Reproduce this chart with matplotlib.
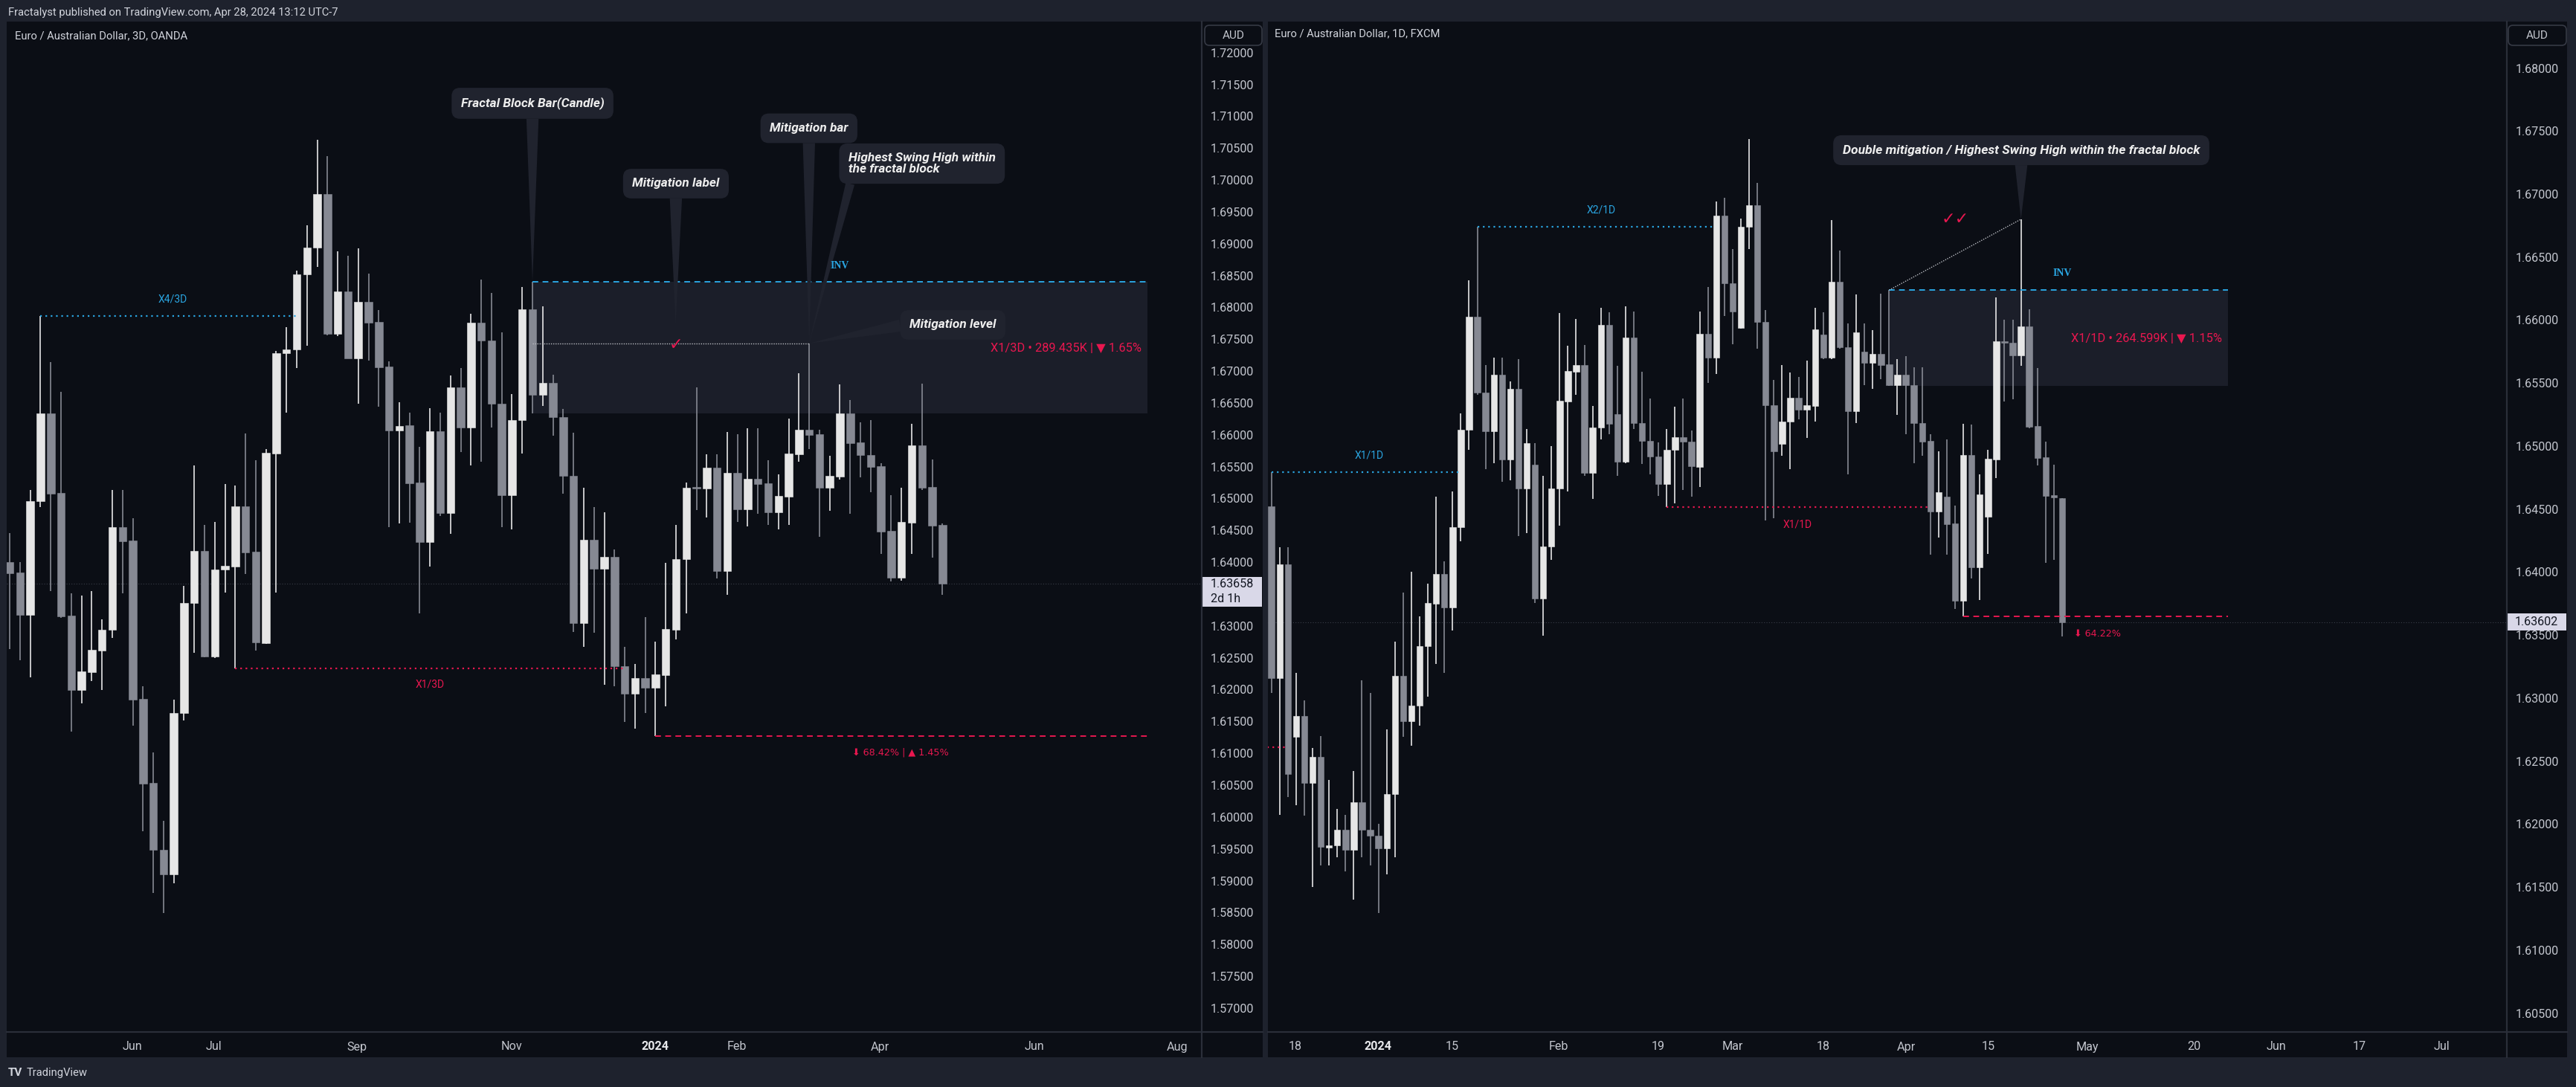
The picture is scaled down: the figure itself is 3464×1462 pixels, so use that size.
import numpy as np
import matplotlib
matplotlib.use('Agg')
import matplotlib.pyplot as plt
import matplotlib.transforms as mtransforms
from matplotlib.patches import Rectangle, FancyBboxPatch
from matplotlib.lines import Line2D
from matplotlib.ticker import FuncFormatter

plt.rcParams['font.family'] = ['Roboto', 'DejaVu Sans']

# ---------------- DATA: left chart (EURAUD, 3D bars) ----------------
left_open = [1.64007, 1.63836, 1.63178, 1.64959, 1.66336, 1.65090, 1.63163, 1.61995, 1.62273, 1.62614,
             1.62939, 1.64548, 1.64340, 1.61855, 1.60540, 1.59487, 1.59100, 1.61631, 1.63356, 1.64177,
             1.62521, 1.63883, 1.63937, 1.64881, 1.64169, 1.62730, 1.65709, 1.67280, 1.67334, 1.68518,
             1.68936, 1.69780, 1.67582, 1.68248, 1.67203, 1.68085, 1.67775, 1.67071, 1.66065, 1.66150,
             1.65253, 1.64316, 1.66057, 1.64773, 1.66746, 1.66112, 1.67760, 1.67481, 1.66491, 1.65052,
             1.66228, 1.67969, 1.66622, 1.66816, 1.66282, 1.65353, 1.63039, 1.64355, 1.63891, 1.64084,
             1.62366, 1.61940, 1.62180, 1.62033, 1.62227, 1.62939, 1.64045, 1.65175, 1.65152, 1.65485,
             1.63860, 1.65400, 1.64835, 1.65307, 1.65237, 1.64788, 1.65028, 1.65694, 1.66081, 1.66011,
             1.65168, 1.65346, 1.66336, 1.65879, 1.65686, 1.65508, 1.64486, 1.63759, 1.64618, 1.65833,
             1.65183, 1.64587]
left_high = [1.64455, 1.64007, 1.65137, 1.67861, 1.67141, 1.66676, 1.63511, 1.63472, 1.63550, 1.63101,
             1.65137, 1.65137, 1.64688, 1.62057, 1.61011, 1.59944, 1.61848, 1.63627, 1.65523, 1.64587,
             1.64633, 1.65230, 1.65199, 1.66019, 1.65601, 1.65771, 1.67319, 1.67690, 1.68573, 1.69292,
             1.70631, 1.70376, 1.68882, 1.68805, 1.68929, 1.68534, 1.67961, 1.67149, 1.66506, 1.66351,
             1.65810, 1.66421, 1.66351, 1.66932, 1.67048, 1.67899, 1.68433, 1.68224, 1.67605, 1.66638,
             1.68317, 1.68402, 1.68015, 1.66947, 1.66406, 1.66034, 1.65168, 1.64866, 1.64788, 1.64200,
             1.62676, 1.62405, 1.63140, 1.62753, 1.63991, 1.64587, 1.65253, 1.66746, 1.65694, 1.65694,
             1.66042, 1.66011, 1.66104, 1.66104, 1.65601, 1.65384, 1.66259, 1.66971, 1.67435, 1.66081,
             1.65671, 1.66793, 1.66545, 1.66197, 1.66235, 1.65554, 1.65052, 1.65168, 1.66174, 1.66800,
             1.65616, 1.64610]
left_low = [1.62637, 1.62459, 1.62196, 1.64866, 1.63550, 1.63124, 1.61344, 1.61786, 1.62134, 1.61995,
            1.62815, 1.63511, 1.61438, 1.59774, 1.58806, 1.58496, 1.58961, 1.61515, 1.62575, 1.62510,
            1.62498, 1.63527, 1.62327, 1.63813, 1.62614, 1.62714, 1.63527, 1.66351, 1.67048, 1.67396,
            1.68634, 1.67566, 1.67551, 1.67195, 1.66491, 1.67164, 1.66444, 1.64548, 1.64610, 1.64626,
            1.63202, 1.63937, 1.64726, 1.64440, 1.65732, 1.65523, 1.65578, 1.66119, 1.64548, 1.64517,
            1.65709, 1.66336, 1.66452, 1.65980, 1.65075, 1.62908, 1.62676, 1.62892, 1.62072, 1.62057,
            1.61492, 1.61383, 1.61631, 1.61267, 1.61732, 1.62792, 1.63194, 1.64819, 1.64703, 1.63743,
            1.63488, 1.64633, 1.64564, 1.64757, 1.64587, 1.64510, 1.64587, 1.65578, 1.65771, 1.64394,
            1.64804, 1.65292, 1.64765, 1.65338, 1.65098, 1.64131, 1.63697, 1.63712, 1.64131, 1.65129,
            1.64069, 1.63488]
left_close = [1.63821, 1.63178, 1.64959, 1.66336, 1.65075, 1.63155, 1.61995, 1.62289, 1.62629, 1.62939,
              1.64548, 1.64332, 1.61848, 1.60524, 1.59487, 1.59100, 1.61631, 1.63364, 1.64177, 1.62521,
              1.63883, 1.63945, 1.64881, 1.64154, 1.62737, 1.65717, 1.67280, 1.67342, 1.68518, 1.68936,
              1.69780, 1.67582, 1.68248, 1.67203, 1.68085, 1.67760, 1.67063, 1.66065, 1.66143, 1.65237,
              1.64316, 1.66057, 1.64773, 1.66746, 1.66112, 1.67760, 1.67474, 1.66483, 1.65052, 1.66235,
              1.67969, 1.66622, 1.66816, 1.66274, 1.65353, 1.63039, 1.64355, 1.63891, 1.64084, 1.62366,
              1.61940, 1.62180, 1.62033, 1.62242, 1.62954, 1.64053, 1.65168, 1.65152, 1.65485, 1.63860,
              1.65400, 1.64835, 1.65307, 1.65230, 1.64788, 1.65044, 1.65709, 1.66081, 1.66003, 1.65168,
              1.65353, 1.66336, 1.65872, 1.65678, 1.65500, 1.64479, 1.63759, 1.64633, 1.65833, 1.65168,
              1.64572, 1.63658]

left_tick_pos = [11.95, 19.87, 33.87, 48.96, 62.96, 70.91, 84.91, 99.95, 113.9]
left_tick_labels = ['Jun', 'Jul', 'Sep', 'Nov', '2024', 'Feb', 'Apr', 'Jun', 'Aug']

# left chart levels / zone
left_fb_bar = 51            # fractal block bar index
left_mit_bar = 78           # mitigation bar index
left_zone_end = 111.0
left_mit_level = 1.67435
left_x4_level, left_x4_span = 1.67861, (3, 28)
left_x1_level, left_x1_span = 1.62327, (22, 60)
left_low_level, left_low_span = 1.61267, (63, 111.0)
left_last = 1.63658
left_countdown = '2d 1h'

# ---------------- DATA: right chart (EURAUD, 1D bars) ----------------
right_open = [1.64522, 1.63158, 1.64064, 1.62695, 1.62859, 1.62325, 1.62532, 1.61814, 1.61830, 1.61954,
              1.61794, 1.62173, 1.61954, 1.61906, 1.61806, 1.62237, 1.63178, 1.62819, 1.62939, 1.63414,
              1.63749, 1.63984, 1.63717, 1.64355, 1.65129, 1.66026, 1.65424, 1.65117, 1.65568, 1.64894,
              1.65456, 1.64662, 1.64854, 1.63789, 1.64203, 1.64662, 1.65356, 1.65588, 1.65643, 1.64786,
              1.65145, 1.65963, 1.65253, 1.64874, 1.65863, 1.65185, 1.65041, 1.64917, 1.64698, 1.64969,
              1.65069, 1.65037, 1.64834, 1.65891, 1.65699, 1.66828, 1.66290, 1.65935, 1.66740, 1.66912,
              1.65983, 1.65324, 1.65017, 1.65193, 1.65384, 1.65288, 1.65320, 1.65887, 1.65699, 1.66306,
              1.65783, 1.65280, 1.65751, 1.65663, 1.65731, 1.65647, 1.65484, 1.65568, 1.65484, 1.65185,
              1.65041, 1.64479, 1.64598, 1.64387, 1.63773, 1.64929, 1.64036, 1.64439, 1.64894, 1.65831,
              1.65819, 1.65719, 1.65951, 1.65161, 1.64913, 1.64610, 1.64586]
right_high = [1.64794, 1.64199, 1.64199, 1.63198, 1.62979, 1.62604, 1.62699, 1.62353, 1.62121, 1.62073,
              1.62420, 1.63142, 1.63043, 1.62001, 1.62751, 1.63450, 1.63837, 1.64004, 1.63649, 1.63908,
              1.64598, 1.64088, 1.64638, 1.65260, 1.66314, 1.66740, 1.65643, 1.65703, 1.65699, 1.65516,
              1.65691, 1.65137, 1.65025, 1.64766, 1.64997, 1.66054, 1.65795, 1.66010, 1.65803, 1.65320,
              1.66098, 1.66062, 1.65635, 1.66110, 1.66066, 1.65592, 1.65376, 1.65029, 1.65133, 1.65312,
              1.65376, 1.65125, 1.66066, 1.66262, 1.66940, 1.66972, 1.66561, 1.66808, 1.67439, 1.67087,
              1.66082, 1.65524, 1.65643, 1.65584, 1.65548, 1.65679, 1.66098, 1.66062, 1.66792, 1.66553,
              1.65975, 1.66202, 1.65975, 1.65923, 1.66210, 1.66238, 1.65691, 1.65715, 1.65624, 1.65624,
              1.65093, 1.64957, 1.65053, 1.64526, 1.65177, 1.65173, 1.64778, 1.64969, 1.66182, 1.66002,
              1.66002, 1.66800, 1.66086, 1.65620, 1.65037, 1.64854, 1.64586]
right_low = [1.63043, 1.62073, 1.62213, 1.62149, 1.62065, 1.61503, 1.61674, 1.61670, 1.61734, 1.61622,
             1.61403, 1.61734, 1.61674, 1.61295, 1.61603, 1.61734, 1.62691, 1.62620, 1.62779, 1.63011,
             1.63270, 1.63198, 1.63537, 1.64247, 1.64973, 1.65404, 1.64814, 1.64866, 1.64718, 1.64726,
             1.64287, 1.64307, 1.63757, 1.63497, 1.64096, 1.64367, 1.64638, 1.65404, 1.64766, 1.64578,
             1.65053, 1.65093, 1.64766, 1.64866, 1.65133, 1.64858, 1.64778, 1.64606, 1.64514, 1.64546,
             1.64654, 1.64598, 1.64674, 1.65504, 1.65572, 1.66034, 1.65811, 1.65931, 1.66561, 1.65771,
             1.64407, 1.64427, 1.64925, 1.64814, 1.65213, 1.65065, 1.65193, 1.65691, 1.65691, 1.65771,
             1.64774, 1.65181, 1.65484, 1.65452, 1.65532, 1.65476, 1.65245, 1.65097, 1.64862, 1.64925,
             1.64136, 1.64275, 1.64136, 1.63705, 1.63649, 1.63948, 1.63777, 1.64144, 1.64746, 1.65356,
             1.65372, 1.65635, 1.65141, 1.64846, 1.64076, 1.64096, 1.63490]
right_close = [1.63158, 1.64064, 1.62400, 1.62859, 1.62325, 1.62532, 1.61822, 1.61834, 1.61954, 1.61794,
               1.62173, 1.61954, 1.61906, 1.61806, 1.62237, 1.63178, 1.62819, 1.62939, 1.63414, 1.63757,
               1.63984, 1.63717, 1.64355, 1.65129, 1.66026, 1.65424, 1.65117, 1.65568, 1.64894, 1.65456,
               1.64662, 1.65025, 1.63789, 1.64203, 1.64662, 1.65360, 1.65596, 1.65643, 1.64786, 1.65149,
               1.65963, 1.65177, 1.64874, 1.65863, 1.65181, 1.65041, 1.64917, 1.64698, 1.64969, 1.65069,
               1.65037, 1.64838, 1.65891, 1.65699, 1.66828, 1.66290, 1.66066, 1.66740, 1.66912, 1.65983,
               1.65324, 1.64957, 1.65197, 1.65384, 1.65288, 1.65324, 1.65927, 1.65699, 1.66306, 1.65783,
               1.65280, 1.65903, 1.65663, 1.65731, 1.65643, 1.65484, 1.65568, 1.65484, 1.65185, 1.65037,
               1.64479, 1.64634, 1.64383, 1.63773, 1.64929, 1.64036, 1.64618, 1.64901, 1.65831, 1.65819,
               1.65719, 1.65951, 1.65153, 1.64905, 1.64602, 1.64590, 1.63602]

right_tick_pos = [2.89, 12.95, 21.97, 34.88, 46.98, 56.01, 66.98, 77.04, 87.06, 99.07, 111.98, 122.0, 132.08, 142.04]
right_tick_labels = ['18', '2024', '15', 'Feb', '19', 'Mar', '18', 'Apr', '15', 'May', '20', 'Jun', '17', 'Jul']

right_fb_bar = 75
right_swing_bar = 91
right_zone_end = 116.1
right_x1b_level, right_x1b_span = 1.64794, (0, 23)
right_x2b_level, right_x2b_span = 1.66740, (25, 53.6)
right_x1r_level, right_x1r_span = 1.64514, (48, 79.9)
right_old_level, right_old_span = 1.62612, (-0.5, 2)
right_low_level, right_low_span = 1.63649, (84, 116.1)
right_last = 1.63602

# ---------------- STYLE ----------------
W, H, DPI = 3464, 1462, 200
OUTER = '#1e222d'
PANEL = '#0b0e15'
SEP = '#2a2e39'
UP = '#e6e6e6'
DOWN = '#868993'
TICK = '#c3c6ce'
ZONE = '#1b1e29'
CALLOUT = '#20232e'
BLUE = '#2aa5e1'
RED = '#e8174f'
DOTW = '#b8bac0'
LABELBOX = '#d9d8e8'

fig = plt.figure(figsize=(W / DPI, H / DPI), dpi=DPI, facecolor=OUTER)


def px_rect(x0, y0, x1, y1):
    return [x0 / W, 1 - y1 / H, (x1 - x0) / W, (y1 - y0) / H]


def fig_rect(x0, y0, x1, y1, color, z=-2):
    r = px_rect(x0, y0, x1, y1)
    fig.add_artist(Rectangle((r[0], r[1]), r[2], r[3], transform=fig.transFigure,
                             fc=color, ec='none', zorder=z))


def fig_line(xs, ys, color=SEP, lw=0.8, z=10):
    fig.add_artist(Line2D([x / W for x in xs], [1 - y / H for y in ys], transform=fig.transFigure,
                          color=color, lw=lw, zorder=z))


# panel backgrounds
fig_rect(9, 29, 1698, 1422, PANEL)
fig_rect(1705, 29, 3452, 1422, PANEL)
# separators
fig_line([1616, 1616], [29, 1422])
fig_line([9, 1698], [1388, 1388])
fig_line([3370.6, 3370.6], [29, 1422])
fig_line([1705, 3452], [1388, 1388])

axL = fig.add_axes(px_rect(9, 29, 1616, 1388))
axR = fig.add_axes(px_rect(1705, 29, 3370.6, 1388))


def draw_candles(ax, o, h, l, c, width=0.76):
    o, h, l, c = map(np.asarray, (o, h, l, c))
    x = np.arange(len(o))
    cols = np.where(c >= o, UP, DOWN)
    ax.vlines(x, l, h, colors=cols, linewidths=0.6, zorder=3)
    bottom = np.minimum(o, c)
    height = np.maximum(np.abs(c - o), 0.0001)
    ax.bar(x, height, width, bottom=bottom, color=cols, edgecolor=cols, linewidth=0.2, zorder=4)


def style_axes(ax, xlim, ylim, yticks, xpos, xlabels):
    ax.set_facecolor(PANEL)
    for s in ax.spines.values():
        s.set_visible(False)
    ax.set_xlim(*xlim)
    ax.set_ylim(*ylim)
    ax.yaxis.tick_right()
    ax.set_yticks(yticks)
    ax.yaxis.set_major_formatter(FuncFormatter(lambda v, _: f'{v:.5f}'))
    ax.tick_params(axis='y', length=0, pad=4.2, labelsize=5.8, labelcolor=TICK)
    ax.set_xticks(xpos)
    ax.set_xticklabels(xlabels)
    ax.tick_params(axis='x', length=0, pad=4.5, labelsize=5.8, labelcolor=TICK)
    for t in ax.get_xticklabels():
        if t.get_text() == '2024':
            t.set_fontweight('bold')
            t.set_color('#e8e9ec')


# left price scale: the tick hidden under the last-price label is not shown (as on the reference)
left_yticks = [v for v in np.arange(1.570, 1.72001, 0.005) if abs(v - left_last) > 0.002]
style_axes(axL, (-0.3, 116.3), (1.56625, 1.72487), left_yticks,
           left_tick_pos, left_tick_labels)
style_axes(axR, (-0.42, 149.95), (1.6035, 1.68369), np.arange(1.605, 1.68001, 0.005),
           right_tick_pos, right_tick_labels)

draw_candles(axL, left_open, left_high, left_low, left_close)
draw_candles(axR, right_open, right_high, right_low, right_close)


def callout(ax, text, xy, xytext, relpos=(0.5, 0.0), size=6.2, tw=0.95):
    ax.annotate(text, xy=xy, xycoords='data', xytext=xytext, textcoords='axes fraction',
                ha='center', va='center', multialignment='left', fontsize=size,
                color='#eeeeee', fontstyle='italic', fontweight='bold', linespacing=0.95,
                bbox=dict(boxstyle='round,pad=0.72,rounding_size=0.65', fc=CALLOUT, ec='none'),
                arrowprops=dict(arrowstyle=f'wedge,tail_width={tw}', fc=CALLOUT, ec='none',
                                relpos=relpos, shrinkA=0, shrinkB=0),
                zorder=8, annotation_clip=False)


def hline(ax, y, x0, x1, color, ls, lw=0.7, z=5):
    ax.plot([x0, x1], [y, y], color=color, ls=ls, lw=lw, zorder=z)


# ---------- left annotations ----------
fbL = left_fb_bar
zL_top, zL_bot = left_high[fbL], left_low[fbL]
axL.add_patch(Rectangle((fbL, zL_bot), left_zone_end - fbL, zL_top - zL_bot,
                        fc=ZONE, ec='none', zorder=1))
hline(axL, zL_top, fbL, left_zone_end, BLUE, (0, (4, 3)), lw=0.7)
axL.plot([fbL, left_mit_bar], [left_mit_level, left_mit_level], color=DOTW, ls=(0, (1, 1.2)), lw=0.5, zorder=5)
axL.text(81.0, 1.68658, 'INV', color=BLUE, fontsize=5, family=['Liberation Serif', 'DejaVu Serif'],
         fontweight='bold', ha='center', va='center', zorder=10)
axL.text(110.45, 1.67358, 'X1/3D • 289.435K | ▼ 1.65%', color=RED, fontsize=5.9, ha='right', va='center', zorder=9)
axL.text(64.97, 1.6741, '✓', color=RED, fontsize=8, ha='center', va='center',
         family=['DejaVu Sans'], zorder=9)

hline(axL, left_x4_level, *left_x4_span, BLUE, (0, (1, 2.2)), lw=0.8)
axL.text(15.9, 1.68124, 'X4/3D', color=BLUE, fontsize=5, ha='center', va='center')
hline(axL, left_x1_level, *left_x1_span, RED, (0, (1, 2.2)), lw=0.8)
axL.text(41.0, 1.62083, 'X1/3D', color=RED, fontsize=5, ha='center', va='center')
hline(axL, left_low_level, *left_low_span, RED, (0, (4, 3)), lw=0.7)
axL.text(86.9, 1.61011, '⬇ 68.42% | ▲ 1.45%', color=RED, fontsize=4.6, ha='center', va='center',
         family=['DejaVu Sans'])
axL.axhline(left_last, color='#3a3e48', ls=(0, (1, 2)), lw=0.4, zorder=2)

callout(axL, 'Fractal Block Bar(Candle)', (fbL, zL_top), (0.4400, 0.9191))
callout(axL, 'Mitigation label', (64.97, left_mit_level + 0.003), (0.5600, 0.8396))
callout(axL, 'Mitigation bar', (left_mit_bar, left_mit_level), (0.6713, 0.8944))
callout(axL, 'Highest Swing High within\nthe fractal block', (left_mit_bar, left_mit_level),
        (0.7659, 0.8594), relpos=(0.03, 0.05), tw=0.7)
callout(axL, 'Mitigation level', (left_mit_bar, left_mit_level), (0.7917, 0.6998), relpos=(0.0, 0.6))

# ---------- right annotations ----------
fbR = right_fb_bar
zR_top, zR_bot = right_high[fbR], right_low[fbR]
axR.add_patch(Rectangle((fbR, zR_bot), right_zone_end - fbR, zR_top - zR_bot,
                        fc=ZONE, ec='none', zorder=1))
hline(axR, zR_top, fbR, right_zone_end, BLUE, (0, (4, 3)), lw=0.7)
axR.plot([fbR, right_swing_bar], [zR_top, right_high[right_swing_bar]], color=DOTW,
         ls=(0, (1, 1.2)), lw=0.5, zorder=5)
axR.text(96.0, 1.66369, 'INV', color=BLUE, fontsize=5, family=['Liberation Serif', 'DejaVu Serif'],
         fontweight='bold', ha='center', va='center', zorder=10)
axR.text(115.4, 1.65855, 'X1/1D • 264.599K | ▼ 1.15%', color=RED, fontsize=5.9, ha='right', va='center', zorder=9)
axR.text(83.05, 1.66797, '✓✓', color=RED, fontsize=8, ha='center', va='center',
         family=['DejaVu Sans'], zorder=9)

hline(axR, right_x1b_level, *right_x1b_span, BLUE, (0, (1, 2.2)), lw=0.8)
axR.text(11.9, 1.64925, 'X1/1D', color=BLUE, fontsize=5, ha='center', va='center')
hline(axR, right_x2b_level, *right_x2b_span, BLUE, (0, (1, 2.2)), lw=0.8)
axR.text(40.0, 1.66872, 'X2/1D', color=BLUE, fontsize=5, ha='center', va='center')
hline(axR, right_x1r_level, *right_x1r_span, RED, (0, (1, 2.2)), lw=0.8)
axR.text(63.9, 1.64379, 'X1/1D', color=RED, fontsize=5, ha='center', va='center')
hline(axR, right_old_level, *right_old_span, RED, (0, (1, 2.2)), lw=0.8)
hline(axR, right_low_level, *right_low_span, RED, (0, (4, 3)), lw=0.7)
axR.text(97.4, 1.63513, '⬇ 64.22%', color=RED, fontsize=4.6, ha='left', va='center',
         family=['DejaVu Sans'])
axR.axhline(right_last, color='#3a3e48', ls=(0, (1, 2)), lw=0.4, zorder=2)

callout(axR, 'Double mitigation / Highest Swing High within the fractal block',
        (right_swing_bar, right_high[right_swing_bar]), (0.6082, 0.8727), size=6.3)

# ---------- last-price labels on the price scales ----------
# left: box spans the whole scale strip, two lines (price + bar countdown)
transL = mtransforms.blended_transform_factory(axL.transAxes, axL.transData)
axL.add_patch(Rectangle((1.0, left_last - 0.00357), 81 / 1607, 0.00467, transform=transL,
                        fc=LABELBOX, ec='none', clip_on=False, zorder=9))
axL.text(1.0 + 12 / 1607, left_last, f'{left_last:.5f}', transform=transL, ha='left', va='center',
         fontsize=5.8, color='#131722', zorder=10, clip_on=False)
axL.text(1.0 + 12 / 1607, left_last - 0.00232, left_countdown, transform=transL, ha='left', va='center',
         fontsize=5.8, color='#131722', zorder=10, clip_on=False)
# right: single-line box
transR = mtransforms.blended_transform_factory(axR.transAxes, axR.transData)
axR.add_patch(Rectangle((1.0, right_last - 0.00068), 80 / 1665.6, 0.00136, transform=transR,
                        fc=LABELBOX, ec='none', clip_on=False, zorder=9))
axR.text(1.0 + 11 / 1665.6, right_last, f'{right_last:.5f}', transform=transR, ha='left', va='center',
         fontsize=5.8, color='#131722', zorder=10, clip_on=False)

# AUD boxes
for x0, x1 in ((1620, 1697), (3373, 3451)):
    r = px_rect(x0, 34, x1, 61)
    fig.add_artist(FancyBboxPatch((r[0], r[1]), r[2], r[3], transform=fig.transFigure,
                                  boxstyle='round,pad=0,rounding_size=0.0018', mutation_aspect=W / H,
                                  fc=PANEL, ec='#363a45', lw=0.6, zorder=11))
    fig.text((x0 + x1) / 2 / W, 1 - 48 / H, 'AUD', ha='center', va='center', fontsize=5.5,
             color=TICK, zorder=12)

# titles / header / footer
fig.text(11 / W, 1 - 17 / H, 'Fractalyst published on TradingView.com, Apr 28, 2024 13:12 UTC-7',
         ha='left', va='center', fontsize=5.3, color='#d1d4dc')
fig.text(20 / W, 1 - 48 / H, 'Euro / Australian Dollar, 3D, OANDA', ha='left', va='center',
         fontsize=5.3, color='#d1d4dc', zorder=12)
fig.text(1714 / W, 1 - 45 / H, 'Euro / Australian Dollar, 1D, FXCM', ha='left', va='center',
         fontsize=5.3, color='#d1d4dc', zorder=12)
fig.text(11 / W, 1 - 1443 / H, 'TV', ha='left', va='center', fontsize=5.5, fontweight='bold',
         color='#d1d4dc')
fig.text(36 / W, 1 - 1443 / H, 'TradingView', ha='left', va='center', fontsize=5.3, color='#d1d4dc')

fig.savefig('out.png', dpi=DPI, facecolor=OUTER)
